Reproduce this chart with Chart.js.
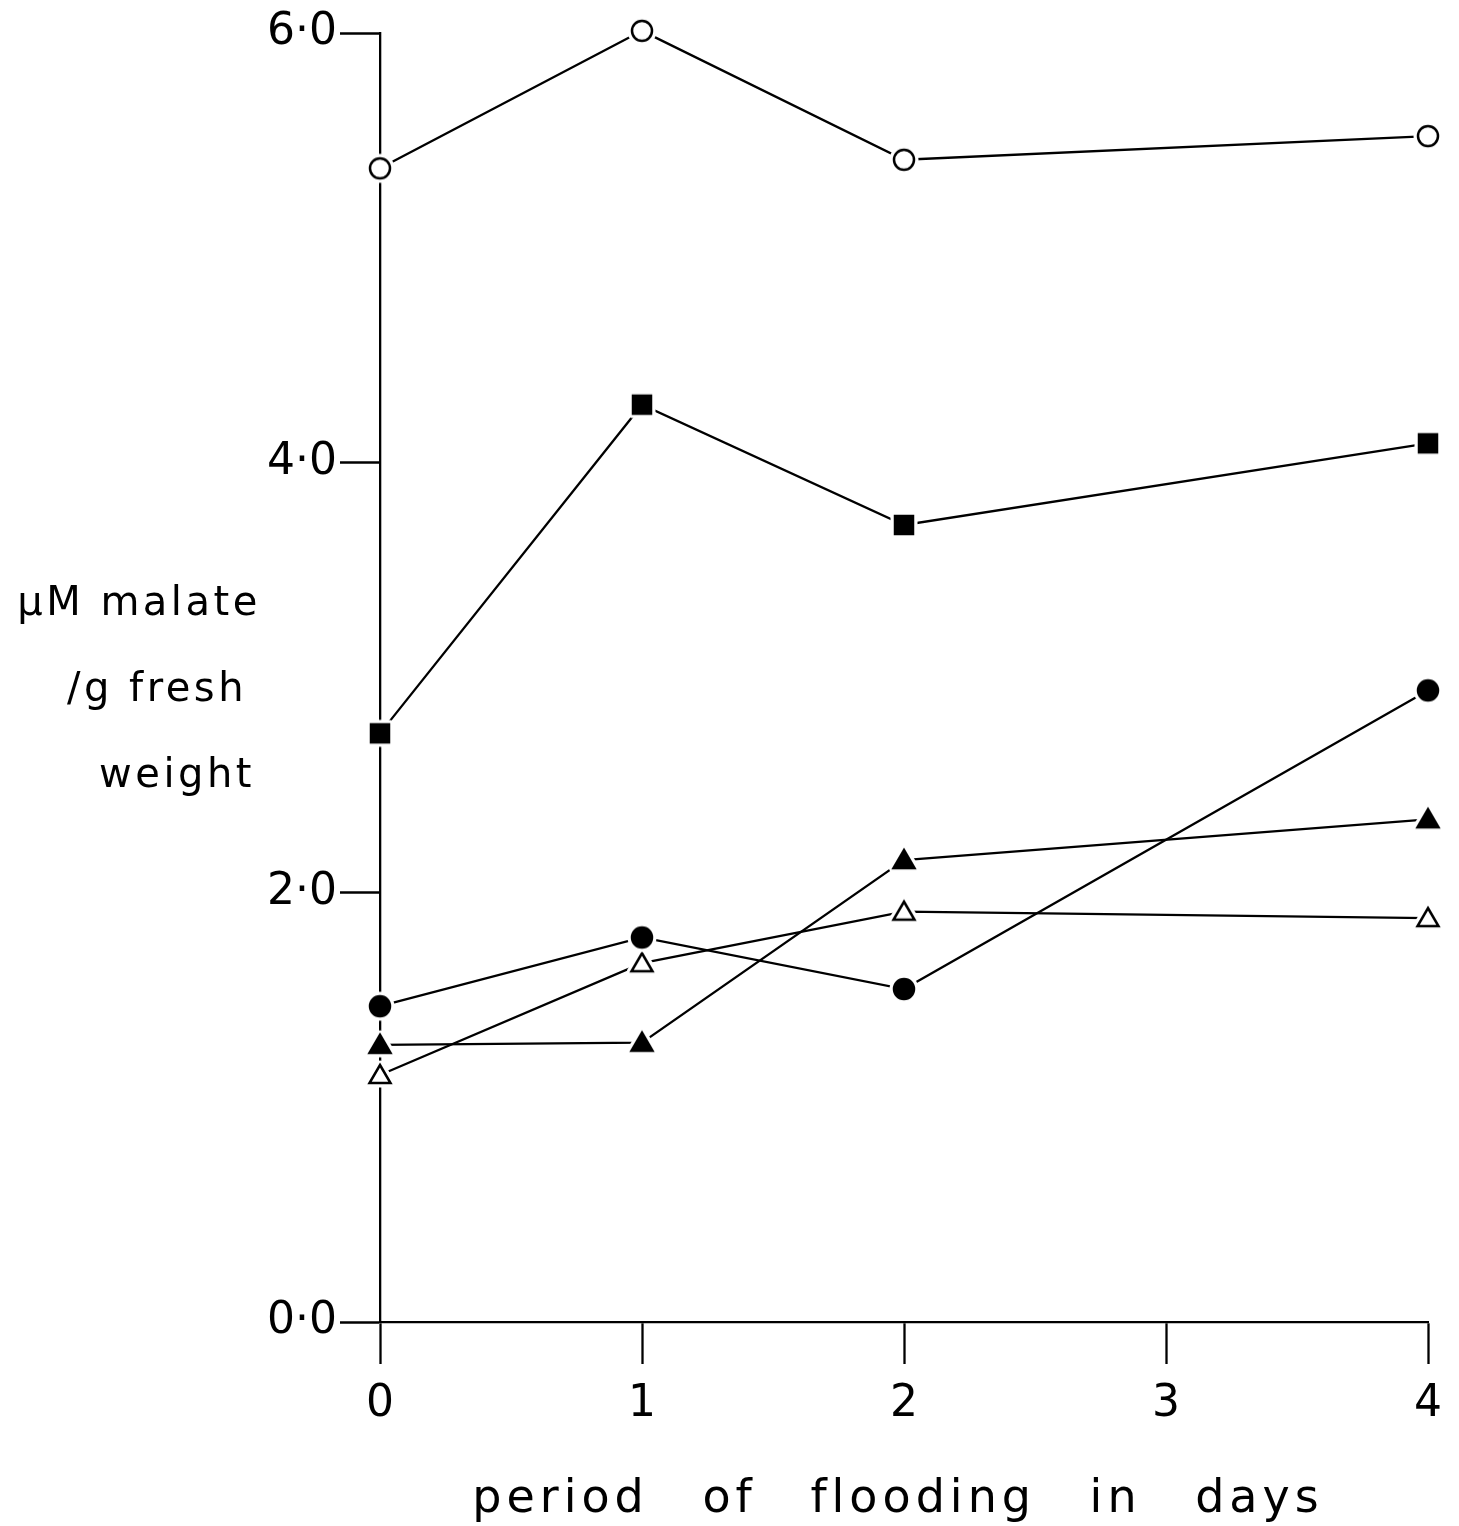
<!DOCTYPE html>
<html>
<head>
<meta charset="utf-8">
<script src="https://cdn.jsdelivr.net/npm/chart.js@4"></script>
<style>
  html, body { margin: 0; padding: 0; background: #fff; }
  #wrap { width: 1459px; height: 1526px; }
</style>
</head>
<body>
<div id="wrap"><canvas id="chart" width="1459" height="1526"></canvas></div>
<script>
// days of flooding
const days = [0, 1, 2, 4];
const xTicks = [0, 1, 2, 3, 4];
const yTicks = [0, 2, 4, 6];

// µM malate / g fresh weight
const openCircle = [5.37, 6.01, 5.41, 5.52];
const filledSquare = [2.74, 4.27, 3.71, 4.09];
const filledCircle = [1.47, 1.79, 1.55, 2.94];
const filledTriangle = [1.29, 1.30, 2.15, 2.34];
const openTriangle = [1.15, 1.67, 1.91, 1.88];

// marker images with a white halo so the lines stop short of the symbol
function makeMarker(kind) {
    const size = 38;
    const c = document.createElement('canvas');
    c.width = size; c.height = size;
    const g = c.getContext('2d');
    const m = size / 2;
    const shape = () => {
        g.beginPath();
        if (kind.includes('circle')) {
            g.arc(m, m, 10, 0, Math.PI * 2);
        } else if (kind.includes('square')) {
            g.rect(m - 9, m - 9, 18, 18);
        } else {
            g.moveTo(m, m - 10);
            g.lineTo(m + 10.5, m + 8);
            g.lineTo(m - 10.5, m + 8);
            g.closePath();
        }
    };
    // halo
    shape();
    g.fillStyle = '#fff';
    g.fill();
    g.strokeStyle = '#fff';
    g.lineWidth = 9;
    g.lineJoin = 'round';
    g.stroke();
    // symbol
    shape();
    g.lineWidth = 2.5;
    g.strokeStyle = '#000';
    g.lineJoin = 'miter';
    if (kind.startsWith('filled')) {
        g.fillStyle = '#000';
        g.fill();
    }
    g.stroke();
    return c;
}

const series = [
    { label: 'open circle', values: openCircle, marker: 'open-circle' },
    { label: 'filled square', values: filledSquare, marker: 'filled-square' },
    { label: 'filled circle', values: filledCircle, marker: 'filled-circle' },
    { label: 'filled triangle', values: filledTriangle, marker: 'filled-triangle' },
    { label: 'open triangle', values: openTriangle, marker: 'open-triangle' }
];

const datasets = series.map(s => ({
    label: s.label,
    data: days.map((d, i) => ({ x: d, y: s.values[i] })),
    borderColor: '#000',
    borderWidth: 2.3,
    pointStyle: makeMarker(s.marker),
    pointRadius: 10,
    fill: false,
    tension: 0,
    clip: false
}));

const fmt = v => v.toFixed(1).replace('.', '·');
const FONT = '"DejaVu Sans", sans-serif';

// axis titles drawn by hand (y title is horizontal, in three lines)
const titles = {
    id: 'titles',
    afterDraw(chart) {
        const ctx = chart.ctx;
        ctx.save();
        ctx.fillStyle = '#000';
        ctx.textBaseline = 'alphabetic';
        ctx.font = '40px ' + FONT;
        ctx.letterSpacing = '3.5px';
        ctx.textAlign = 'center';
        ctx.fillText('µM malate', 139, 615);
        ctx.fillText('/g fresh', 157, 701);
        ctx.fillText('weight', 177, 787);

        ctx.font = '46px ' + FONT;
        ctx.letterSpacing = '5px';
        ctx.wordSpacing = '34px';
        ctx.fillText('period of flooding in days', 898, 1512);
        ctx.restore();
    }
};

new Chart(document.getElementById('chart'), {
    type: 'line',
    data: { datasets },
    options: {
        responsive: false,
        animation: false,
        layout: { padding: { top: 33, right: 31, left: 0, bottom: 0 } },
        plugins: { legend: { display: false }, tooltip: { enabled: false } },
        scales: {
            x: {
                type: 'linear',
                min: 0,
                max: 4,
                afterBuildTicks: a => { a.ticks = xTicks.map(v => ({ value: v })); },
                afterFit: a => { a.height = 204; },
                border: { display: true, color: '#000', width: 2.3 },
                grid: { display: true, drawOnChartArea: false, drawTicks: true, tickLength: 42, tickWidth: 2.3, tickColor: '#000' },
                ticks: { color: '#000', font: { family: FONT, size: 44 }, padding: 14, callback: v => String(v) }
            },
            y: {
                min: 0,
                max: 6,
                afterBuildTicks: a => { a.ticks = yTicks.map(v => ({ value: v })); },
                afterFit: a => { a.width = 380; },
                border: { display: true, color: '#000', width: 2.3 },
                grid: { display: true, drawOnChartArea: false, drawTicks: true, tickLength: 40, tickWidth: 2.3, tickColor: '#000' },
                ticks: { color: '#000', font: { family: FONT, size: 44 }, padding: 3, callback: v => fmt(v) }
            }
        }
    },
    plugins: [titles]
});
</script>
</body>
</html>
